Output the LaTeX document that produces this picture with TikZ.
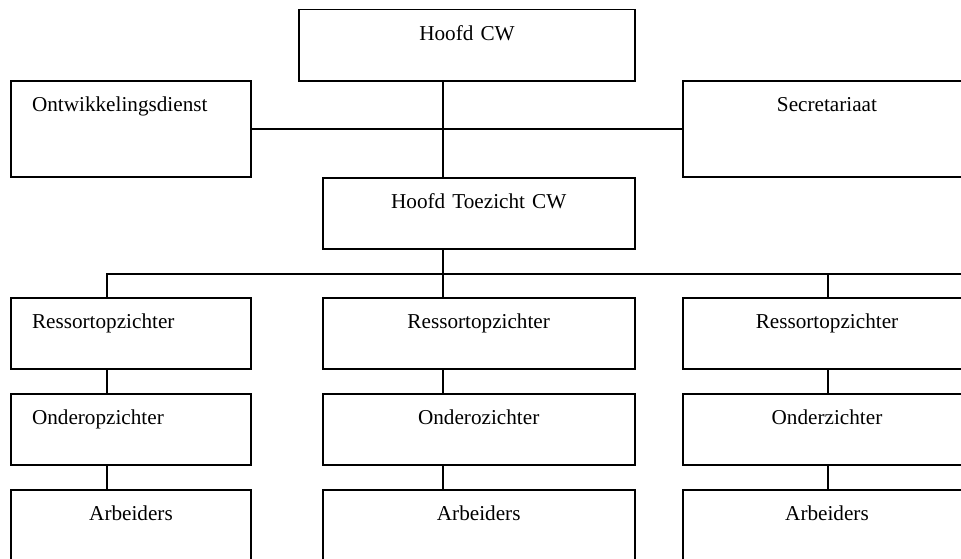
\documentclass[tikz,border=0pt]{standalone}
\usepackage{fontspec}
\setmainfont{Liberation Serif}

\begin{document}
\begin{tikzpicture}[x=1pt, y=-1pt, line width=1.7pt,
    font=\fontsize{21.2pt}{25pt}\selectfont,
    box/.style={draw, line width=1.7pt, anchor=north west, inner xsep=21pt, inner ysep=0pt,
      outer sep=0pt, text height=30.5pt, text depth=40.7pt, align=center},
    tall/.style={text depth=65.5pt}]
    \useasboundingbox (0,0) rectangle (961,558);
    \clip (0,0) rectangle (961,558);

    \coordinate (s1) at (107,0);
    \coordinate (s2) at (443,0);
    \coordinate (s3) at (828,0);
    \coordinate (bus) at (0,274);
    \coordinate (busend) at (975,274);

    \node[box, text width=294pt] (hcw) at (299,9.5) {Hoofd CW};
    \node[box, tall, text width=198pt, align=left] (ontw) at (11,81) {Ontwikkelingsdienst};
    \node[box, tall, text width=246pt] (sec) at (683,81) {Secretariaat};
    \node[box, text width=270pt] (htcw) at (322.7,177.7) {Hoofd Toezicht CW};

    \node[box, text width=198pt, align=left] (res1) at (11,297.7) {Ressortopzichter};
    \node[box, text width=270pt] (res2) at (322.7,297.7) {Ressortopzichter};
    \node[box, text width=246pt] (res3) at (683,297.7) {Ressortopzichter};

    \node[box, text width=198pt, align=left] (ond1) at (11,394) {Onderopzichter};
    \node[box, text width=270pt] (ond2) at (322.7,394) {Onderozichter};
    \node[box, text width=246pt] (ond3) at (683,394) {Onderzichter};

    \node[box, text width=198pt] (arb1) at (11,490) {Arbeiders};
    \node[box, text width=270pt] (arb2) at (322.7,490) {Arbeiders};
    \node[box, text width=246pt] (arb3) at (683,490) {Arbeiders};

    \draw (hcw.south -| s2) -- (htcw.north -| s2);
    \draw (ontw.east) -- (sec.west);
    \draw (htcw.south -| s2) -- (s2 |- bus);
    \draw (res1.north -| s1) -- (s1 |- bus) -- (busend);
    \draw (s2 |- bus) -- (res2.north -| s2);
    \draw (s3 |- bus) -- (res3.north -| s3);

    \draw (res1.south -| s1) -- (ond1.north -| s1);
    \draw (res2.south -| s2) -- (ond2.north -| s2);
    \draw (res3.south -| s3) -- (ond3.north -| s3);
    \draw (ond1.south -| s1) -- (arb1.north -| s1);
    \draw (ond2.south -| s2) -- (arb2.north -| s2);
    \draw (ond3.south -| s3) -- (arb3.north -| s3);
\end{tikzpicture}
\end{document}
